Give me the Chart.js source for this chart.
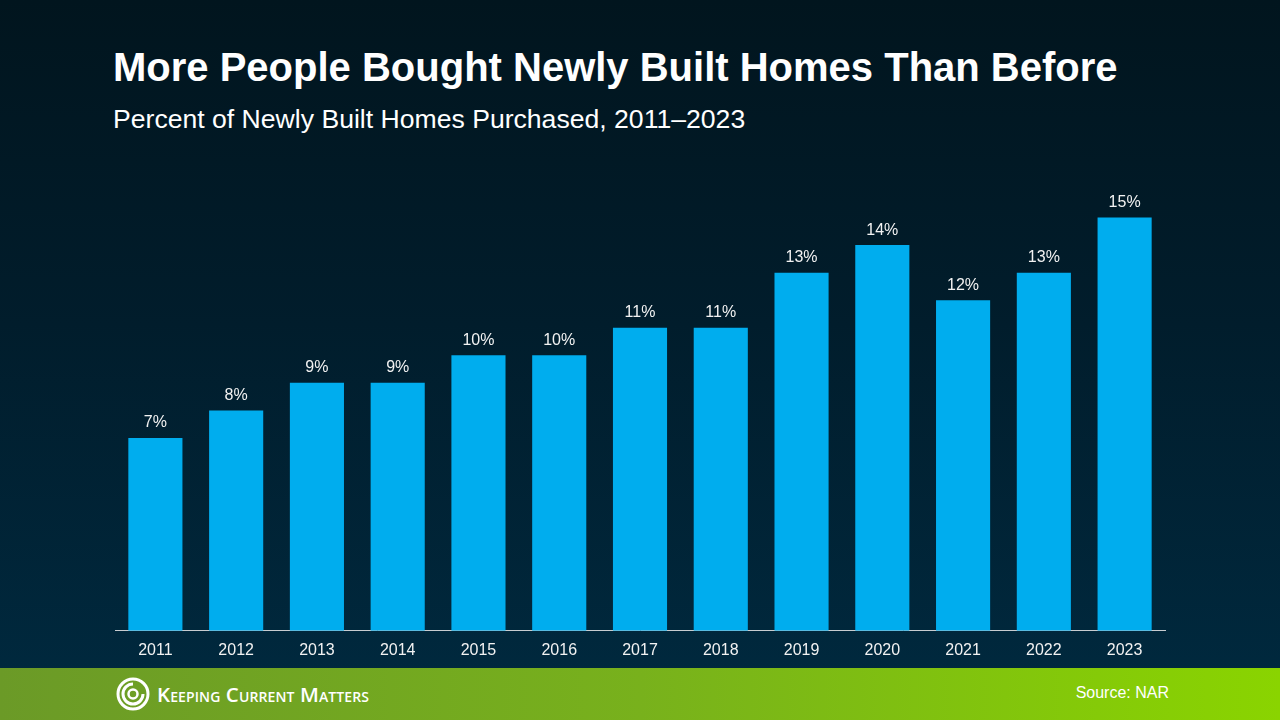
<!DOCTYPE html>
<html>
<head>
<meta charset="utf-8">
<script src="https://cdn.jsdelivr.net/npm/chart.js@4"></script>
<style>
  html, body { margin: 0; padding: 0; }
  body {
    width: 1280px; height: 720px; overflow: hidden; position: relative;
    background: linear-gradient(to bottom, #01151e 0%, #011d2c 45%, #002a40 100%);
    font-family: "Liberation Sans", Arial, sans-serif;
  }
  #title {
    position: absolute; left: 113px; top: 45px; margin: 0;
    color: #fff; font-size: 40px; font-weight: bold; white-space: nowrap;
  }
  #subtitle {
    position: absolute; left: 113px; top: 104px; margin: 0;
    color: #fff; font-size: 26.6px; font-weight: normal; white-space: nowrap;
  }
  #wrap { position: absolute; left: 0; top: 162px; width: 1280px; height: 508px; }
  #footer {
    position: absolute; left: 0; top: 668px; width: 1280px; height: 52px;
    background: linear-gradient(to right, #6b9a27 0%, #78b11c 50%, #8ad400 100%);
  }
  #logo { position: absolute; left: 116px; top: 9px; height: 34px; display: flex; align-items: center; }
  #logo span {
    color: #fff; font-family: "Open Sans", sans-serif; font-variant: small-caps;
    font-size: 20.5px; font-weight: 600; margin-left: 7px; letter-spacing: 0.1px;
  }
  #source { position: absolute; right: 111px; top: 16px; color: #fff; font-size: 16px; }
</style>
</head>
<body>
<h1 id="title">More People Bought Newly Built Homes Than Before</h1>
<h2 id="subtitle">Percent of Newly Built Homes Purchased, 2011–2023</h2>
<div id="wrap"><canvas id="chart"></canvas></div>
<div id="footer">
  <div id="logo">
    <svg width="34" height="34" viewBox="0 0 34 34">
      <circle cx="17" cy="17" r="15" fill="none" stroke="#fff" stroke-width="3"/>
      <path d="M17 7 A10 10 0 1 0 27 17" fill="none" stroke="#fff" stroke-width="3"/>
      <circle cx="17" cy="17" r="4.5" fill="none" stroke="#fff" stroke-width="2.5"/>
    </svg>
    <span>Keeping Current Matters</span>
  </div>
  <div id="source">Source: NAR</div>
</div>
<script>
const years = ['2011', '2012', '2013', '2014', '2015', '2016', '2017', '2018', '2019', '2020', '2021', '2022', '2023'];
const percents = [7, 8, 9, 9, 10, 10, 11, 11, 13, 14, 12, 13, 15];

// draw the % labels above each bar
const barLabels = {
    id: 'barLabels',
    afterDatasetsDraw(chart) {
        const ctx = chart.ctx;
        const meta = chart.getDatasetMeta(0);
        ctx.save();
        ctx.fillStyle = '#f2f2f2';
        ctx.font = '16px "Liberation Sans", Arial, sans-serif';
        ctx.textAlign = 'center';
        ctx.textBaseline = 'middle';
        meta.data.forEach(function(bar, i) {
            ctx.fillText(percents[i] + '%', bar.x, bar.y - 15);
        });
        ctx.restore();
    }
};

const chart = new Chart(document.getElementById('chart').getContext('2d'), {
    type: 'bar',
    data: {
        labels: years,
        datasets: [{
            data: percents,
            backgroundColor: '#00adee',
            borderWidth: 0,
            categoryPercentage: 1,
            barPercentage: 0.67
        }]
    },
    options: {
        responsive: true,
        maintainAspectRatio: false,
        animation: false,
        layout: { padding: { left: 115, right: 115, top: 28, bottom: 0 } },
        plugins: { legend: { display: false }, tooltip: { enabled: false } },
        scales: {
            x: {
                grid: { display: false, drawTicks: false },
                border: { display: true, color: '#c8ccd0', width: 1 },
                ticks: {
                    color: '#f2f2f2',
                    padding: 10,
                    font: { family: '"Liberation Sans", Arial, sans-serif', size: 16 }
                }
            },
            y: { display: false, min: 0, max: 16 }
        }
    },
    plugins: [barLabels]
});
</script>
</body>
</html>
